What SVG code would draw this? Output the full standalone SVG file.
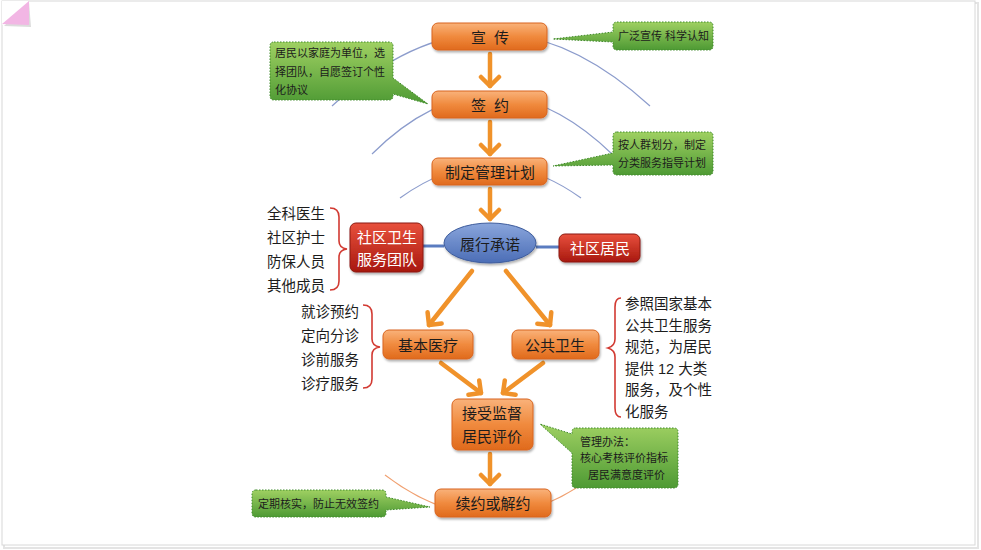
<svg xmlns="http://www.w3.org/2000/svg" width="981" height="550" viewBox="0 0 981 550">
<defs>
<linearGradient id="gOr" x1="0" y1="0" x2="0" y2="1"><stop offset="0" stop-color="#f9b27a"/><stop offset="0.5" stop-color="#f08a3e"/><stop offset="1" stop-color="#e06a1c"/></linearGradient>
<linearGradient id="gRed" x1="0" y1="0" x2="0" y2="1"><stop offset="0" stop-color="#e8503c"/><stop offset="1" stop-color="#a8180f"/></linearGradient>
<linearGradient id="gBlue" x1="0" y1="0" x2="0" y2="1"><stop offset="0" stop-color="#8aa6dc"/><stop offset="1" stop-color="#4b6db6"/></linearGradient>
<linearGradient id="gGr" x1="0" y1="0" x2="0" y2="1"><stop offset="0" stop-color="#9fd062"/><stop offset="1" stop-color="#4e9a34"/></linearGradient>
<filter id="sh" x="-10%" y="-10%" width="130%" height="140%"><feDropShadow dx="1" dy="2" stdDeviation="1.2" flood-color="#000" flood-opacity="0.3"/></filter>
<marker id="ah" markerUnits="userSpaceOnUse" markerWidth="24" markerHeight="24" viewBox="0 0 24 24" refX="13" refY="12" orient="auto"><path d="M4,3 L13,12 L4,21" fill="none" stroke="#f0922a" stroke-width="4.5" stroke-linecap="round" stroke-linejoin="round"/></marker>
</defs>
<style>
text{font-family:"Liberation Sans","Noto Sans CJK SC",sans-serif;}
.nt{font-size:15px;fill:#1c1c1c;text-anchor:middle;dominant-baseline:central;}
.wt{font-size:15px;fill:#ffffff;text-anchor:middle;dominant-baseline:central;}
.ct{font-size:11px;fill:#1c1c1c;dominant-baseline:central;}
.lt{font-size:14.5px;fill:#1c1c1c;dominant-baseline:central;}
.on{fill:url(#gOr);stroke:#d8641e;stroke-width:1;filter:url(#sh);}
.rn{fill:url(#gRed);stroke:#8a1a10;stroke-width:1;filter:url(#sh);}
.co{fill:url(#gGr);stroke:#3f8a2a;stroke-width:1;stroke-dasharray:1.5 1.5;}
.arc{fill:none;stroke:#8c9ccc;stroke-width:1.2;}
.br{fill:none;stroke:#d23a32;stroke-width:1.6;}
.ar{fill:none;stroke:#f0922a;stroke-width:4.5;stroke-linecap:round;marker-end:url(#ah);}
</style>
<rect x="0" y="0" width="981" height="550" fill="#ffffff"/>
<rect x="4" y="3" width="974" height="545" fill="none" stroke="#e4e4e4" stroke-width="2"/>
<rect x="2" y="1" width="973" height="544" fill="#ffffff" stroke="#d8d8d8" stroke-width="1"/>
<polygon points="2,1 29,1 2,25" fill="#ffffff"/>
<polygon points="29,2 31,27 4,26" fill="#dcdcdc"/>
<polygon points="2,24 29,1 29,25" fill="#f2b6e4"/>

<g id="arcs">
<path class="arc" d="M332,106 Q490,-40 650,106"/>
<path class="arc" d="M372,154 Q490,37 612,154"/>
<path class="arc" d="M400,198 Q490,133 581,198"/>
<path d="M385,475 Q490,555 595,475" fill="none" stroke="#f0a070" stroke-width="1.2"/>
</g>

<g id="connectors">
<line x1="423" y1="246" x2="444" y2="246" stroke="#5a7cc0" stroke-width="3"/>
<line x1="536" y1="247" x2="559" y2="247" stroke="#5a7cc0" stroke-width="3"/>
<line class="ar" x1="490" y1="54" x2="490" y2="86"/>
<line class="ar" x1="490" y1="122" x2="490" y2="154"/>
<line class="ar" x1="490" y1="189" x2="490" y2="219"/>
<line class="ar" x1="472" y1="271" x2="429" y2="325"/>
<line class="ar" x1="506" y1="271" x2="550" y2="325"/>
<line class="ar" x1="441" y1="363" x2="481" y2="393"/>
<line class="ar" x1="543" y1="363" x2="503" y2="393"/>
<line class="ar" x1="490" y1="454" x2="490" y2="484"/>
</g>

<g id="c1"><path class="co" d="M617,22 H709 Q713,22 713,26 V46 Q713,50 709,50 H617 Q613,50 613,46 V42 L553,39 L613,32 V26 Q613,22 617,22 Z"/><text class="ct" x="618" y="36">广泛宣传 科学认知</text></g>
<g id="c2"><path class="co" d="M274,42 H389 Q393,42 393,46 V78 L428,104 L393,94 V96 Q393,100 389,100 H274 Q270,100 270,96 V46 Q270,42 274,42 Z"/><text class="ct" x="275" y="53">居民以家庭为单位，选</text><text class="ct" x="275" y="72">择团队，自愿签订个性</text><text class="ct" x="275" y="90">化协议</text></g>
<g id="c3"><path class="co" d="M617,132 H709 Q713,132 713,136 V171 Q713,175 709,175 H617 Q613,175 613,171 V165 L553,166 L613,153 V136 Q613,132 617,132 Z"/><text class="ct" x="618" y="145">按人群划分，制定</text><text class="ct" x="618" y="163">分类服务指导计划</text></g>
<g id="c4"><path class="co" d="M576,428 H674 Q678,428 678,432 V484 Q678,488 674,488 H576 Q572,488 572,484 V453 L540,424 L572,434 V432 Q572,428 576,428 Z"/><text class="ct" x="580" y="442">管理办法：</text><text class="ct" x="580" y="458">核心考核评价指标</text><text class="ct" x="588" y="475">居民满意度评价</text></g>
<g id="c5"><path class="co" d="M256,490 H382 Q386,490 386,494 V497 L430,507 L386,510 V513 Q386,517 382,517 H256 Q252,517 252,513 V494 Q252,490 256,490 Z"/><text class="ct" x="258" y="504">定期核实，防止无效签约</text></g>

<g id="n1"><rect class="on" x="432" y="23" width="115" height="27" rx="6"/><text class="nt" x="490" y="37" letter-spacing="8" dx="4">宣传</text></g>
<g id="n2"><rect class="on" x="432" y="91" width="115" height="27" rx="6"/><text class="nt" x="490" y="105" letter-spacing="8" dx="4">签约</text></g>
<g id="n3"><rect class="on" x="432" y="158" width="115" height="27" rx="6"/><text class="nt" x="490" y="172">制定管理计划</text></g>
<g id="n4"><ellipse cx="490" cy="243" rx="46" ry="20" fill="url(#gBlue)" stroke="#3e5c9c" stroke-width="1" filter="url(#sh)"/><text class="nt" x="490" y="244">履行承诺</text></g>
<g id="n5"><rect class="rn" x="350" y="223" width="73" height="49" rx="6"/><text class="wt" x="387" y="237">社区卫生</text><text class="wt" x="387" y="259">服务团队</text></g>
<g id="n6"><rect class="rn" x="559" y="234" width="81" height="28" rx="6"/><text class="wt" x="600" y="248">社区居民</text></g>
<g id="n7"><rect class="on" x="383" y="330" width="90" height="29" rx="6"/><text class="nt" x="428" y="345">基本医疗</text></g>
<g id="n8"><rect class="on" x="512" y="330" width="87" height="29" rx="6"/><text class="nt" x="555" y="345">公共卫生</text></g>
<g id="n9"><rect class="on" x="452" y="399" width="81" height="51" rx="6"/><text class="nt" x="492" y="413">接受监督</text><text class="nt" x="492" y="436">居民评价</text></g>
<g id="n10"><rect class="on" x="435" y="489" width="116" height="28" rx="6"/><text class="nt" x="493" y="503">续约或解约</text></g>

<g id="list1"><text class="lt" x="267" y="214">全科医生</text><text class="lt" x="267" y="238">社区护士</text><text class="lt" x="267" y="262">防保人员</text><text class="lt" x="267" y="286">其他成员</text>
<path class="br" d="M330,208 Q339,208 339,217 V241 Q339,248 347,249 Q339,250 339,257 V281 Q339,290 330,290"/></g>
<g id="list2"><text class="lt" x="301" y="312">就诊预约</text><text class="lt" x="301" y="336">定向分诊</text><text class="lt" x="301" y="360">诊前服务</text><text class="lt" x="301" y="384">诊疗服务</text>
<path class="br" d="M363,305 Q372,305 372,314 V339 Q372,346 380,347 Q372,348 372,355 V379 Q372,388 363,388"/></g>
<g id="list3"><text class="lt" x="625" y="304">参照国家基本</text><text class="lt" x="625" y="326">公共卫生服务</text><text class="lt" x="625" y="347">规范，为居民</text><text class="lt" x="625" y="369">提供 12 大类</text><text class="lt" x="625" y="390">服务，及个性</text><text class="lt" x="625" y="412">化服务</text>
<path class="br" d="M621,298 Q615,298 615,307 V339 Q615,346 608,348 Q615,350 615,357 V408 Q615,417 621,417"/></g>
</svg>
